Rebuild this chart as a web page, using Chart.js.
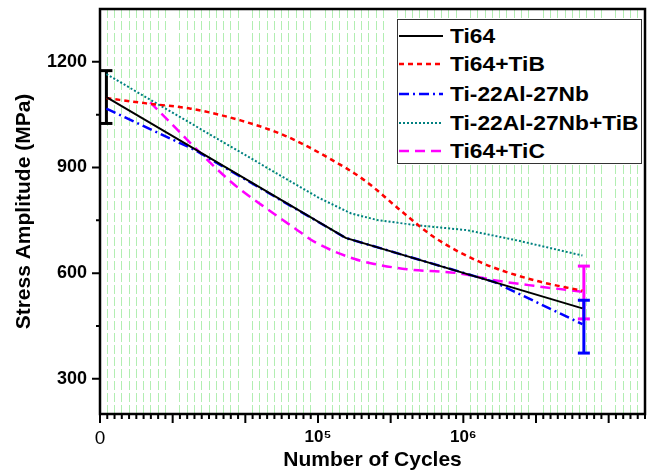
<!DOCTYPE html>
<html>
<head>
<meta charset="utf-8">
<script src="https://cdn.jsdelivr.net/npm/chart.js@4.4.0/dist/chart.umd.min.js"></script>
<style>
  html, body { margin: 0; padding: 0; background: #fff; }
  #wrap { position: relative; width: 654px; height: 473px; }
  #legend {
    position: absolute; left: 397px; top: 19px; width: 245px; height: 145px;
    box-sizing: border-box; border: 1px solid #333; background: #fff;
    font-family: "Liberation Sans", Arial, sans-serif; font-weight: bold; font-size: 20px; color: #000;
  }
  .row { position: absolute; left: 0; width: 100%; height: 24px; line-height: 24px; white-space: nowrap; }
  .row svg { position: absolute; left: 0; top: 0; }
  .row span { position: absolute; left: 52px; top: 0; transform: scaleX(1.14); transform-origin: left center; }
</style>
</head>
<body>
<div id="wrap">
  <canvas id="chart" width="654" height="473"></canvas>
  <div id="legend"></div>
</div>
<script>
// --- DATA ---
// Ti64
const ti64Cycles = [3500, 1.55e5, 6.6e6];
const ti64Stress = [1100, 700, 500];
// Ti64+TiB
const ti64TibCycles = [3500, 6600, 13300, 29700, 59500, 1.17e5, 2.1e5, 3.7e5, 6.3e5, 1.31e6, 3.06e6, 6.6e6];
const ti64TibStress = [1097, 1082, 1067, 1033, 990, 928, 863, 778, 702, 631, 580, 550];
// Ti-22Al-27Nb
const tiAlNbCycles = [3500, 1.4e4, 1.55e5, 1.63e6, 6.6e6];
const tiAlNbStress = [1067, 951, 700, 575, 455];
// Ti-22Al-27Nb+TiB
const tiAlNbTibCycles = [3500, 1e5, 1.68e5, 2.6e5, 4.8e5, 1.06e6, 2.34e6, 6.6e6];
const tiAlNbTibStress = [1165, 815, 770, 750, 736, 722, 693, 650];
// Ti64+TiC
const ti64TicCycles = [7000, 25400, 49200, 69500, 95400, 1.79e5, 2.45e5, 4.1e5, 9.1e5, 1.63e6, 3.06e6, 6.6e6];
const ti64TicStress = [1085, 858, 770, 727, 688, 640, 626, 611, 600, 580, 564, 547];

// error bars: Ti64 (start), Ti-22Al-27Nb (end), Ti64+TiC (end)
const errCycles = [3500, 6.75e6, 6.75e6];
const errMean = [1100, 448, 545];
const errHalf = [75, 75, 75];

// axis ticks (exponent of 10 for x)
const xMinExp = 3.5;
const xMaxExp = 7.25;
const yTicks = [300, 450, 600, 750, 900, 1050, 1200];

const seriesNames = ['Ti64', 'Ti64+TiB', 'Ti-22Al-27Nb', 'Ti-22Al-27Nb+TiB', 'Ti64+TiC'];

const FONT = '"Liberation Sans", Arial, sans-serif';

const zip = (xs, ys) => xs.map((x, i) => ({ x: x, y: ys[i] }));

const styles = [
    { color: '#000000', width: 2, dash: [], tension: 0 },
    { color: '#ff0000', width: 2.5, dash: [5, 4], tension: 0.4 },
    { color: '#0000ff', width: 2.5, dash: [10, 4, 2, 4], tension: 0 },
    { color: '#008080', width: 2, dash: [2, 2], tension: 0 },
    { color: '#ff00ff', width: 2.5, dash: [10, 6], tension: 0.4 }
];
const seriesData = [
    zip(ti64Cycles, ti64Stress),
    zip(ti64TibCycles, ti64TibStress),
    zip(tiAlNbCycles, tiAlNbStress),
    zip(tiAlNbTibCycles, tiAlNbTibStress),
    zip(ti64TicCycles, ti64TicStress)
];

const lineSets = seriesData.map((d, i) => ({
    label: seriesNames[i],
    data: d,
    borderColor: styles[i].color,
    borderWidth: styles[i].width,
    borderDash: styles[i].dash,
    cubicInterpolationMode: styles[i].tension ? 'monotone' : 'default',
    pointRadius: 0,
    fill: false
}));

const errColors = ['#000000', '#0000ff', '#ff00ff'];
const errSets = errCycles.map((c, i) => ({
    label: 'err' + i,
    data: [{ x: c, y: errMean[i] - errHalf[i] }, { x: c, y: errMean[i] + errHalf[i] }],
    borderColor: errColors[i],
    borderWidth: 3,
    pointStyle: 'line',
    pointRadius: 6,
    pointBorderWidth: 3,
    pointBorderColor: errColors[i],
    fill: false
}));

// frame + outward tick marks
const frameTicks = {
    id: 'frameTicks',
    afterDraw(chart) {
        const { ctx, chartArea: a, scales } = chart;
        ctx.save();
        ctx.setLineDash([]);
        ctx.strokeStyle = '#000';
        ctx.lineWidth = 2.5;
        ctx.strokeRect(a.left, a.top, a.right - a.left, a.bottom - a.top);
        ctx.lineWidth = 2;
        ctx.beginPath();
        scales.x.ticks.forEach(t => {
            const px = scales.x.getPixelForValue(t.value);
            ctx.moveTo(px, a.bottom);
            ctx.lineTo(px, a.bottom + (t.major ? 9 : 5));
        });
        scales.y.ticks.forEach(t => {
            const py = scales.y.getPixelForValue(t.value);
            ctx.moveTo(a.left, py);
            ctx.lineTo(a.left - (t.major ? 8 : 4), py);
        });
        ctx.stroke();
        ctx.restore();
    }
};

new Chart(document.getElementById('chart').getContext('2d'), {
    type: 'line',
    data: { datasets: lineSets.concat(errSets) },
    options: {
        responsive: false,
        animation: false,
        layout: { padding: { top: 8, right: 7, left: 0, bottom: 0 } },
        plugins: { legend: { display: false }, tooltip: { enabled: false } },
        scales: {
            x: {
                type: 'logarithmic',
                min: Math.pow(10, xMinExp),
                max: Math.pow(10, xMaxExp),
                afterBuildTicks: s => {
                    const ticks = [];
                    for (let k = Math.round(xMinExp * 20); k <= Math.round(xMaxExp * 20); k++) {
                        ticks.push({ value: Math.pow(10, k / 20), major: k % 10 === 0 });
                    }
                    s.ticks = ticks;
                },
                afterFit: s => {
                    s.height = 59;
                    s.paddingLeft = 0;
                    s.paddingRight = 0;
                },
                grid: {
                    drawTicks: false,
                    lineWidth: 1,
                    color: c => (c.tick && c.tick.major) ? 'rgba(0,0,0,0)' : '#b2eeb2'
                },
                border: { display: false, dash: [9, 3] },
                ticks: {
                    autoSkip: false,
                    maxRotation: 0,
                    minRotation: 0,
                    padding: 13,
                    color: '#000',
                    font: c => {
                        const e = c.tick ? Math.round(Math.log10(c.tick.value) * 20) / 20 : 0;
                        return e === xMinExp
                            ? { family: FONT, size: 19, weight: 'normal' }
                            : { family: FONT, size: 17, weight: 'bold' };
                    },
                    callback: v => {
                        const e = Math.round(Math.log10(v) * 20) / 20;
                        if (e === xMinExp) return '0';
                        if (e === 5) return '10\u2075';
                        if (e === 6) return '10\u2076';
                        return '';
                    }
                },
                title: {
                    display: true,
                    text: 'Number of Cycles',
                    color: '#000',
                    font: { family: FONT, size: 21, weight: 'bold' },
                    padding: { top: 0, bottom: 0 }
                }
            },
            y: {
                type: 'linear',
                min: 200,
                max: 1350,
                afterBuildTicks: s => {
                    s.ticks = yTicks.map(v => ({ value: v, major: v % 300 === 0 }));
                },
                afterFit: s => {
                    s.width = 100;
                    s.paddingTop = 0;
                    s.paddingBottom = 0;
                },
                grid: { display: false, drawTicks: false },
                border: { display: false },
                ticks: {
                    padding: 13,
                    color: '#000',
                    font: { family: FONT, size: 18, weight: 'bold' },
                    callback: v => (v % 300 === 0 ? String(v) : '')
                },
                title: {
                    display: true,
                    text: 'Stress Amplitude (MPa)',
                    color: '#000',
                    font: { family: FONT, size: 21, weight: 'bold' },
                    padding: { top: 12, bottom: 0 }
                }
            }
        }
    },
    plugins: [frameTicks]
});

// --- LEGEND (html, inside plot area) ---
const legendEl = document.getElementById('legend');
const rowCenters = [16, 44, 74, 103, 131];
seriesNames.forEach((name, i) => {
    const row = document.createElement('div');
    row.className = 'row';
    row.style.top = (rowCenters[i] - 12) + 'px';
    const st = styles[i];
    row.innerHTML = `
        <svg width="46" height="24"><line x1="1" y1="12" x2="45" y2="12"
            stroke="${st.color}" stroke-width="${st.width}"
            stroke-dasharray="${st.dash.length ? st.dash.join(',') : 'none'}"/></svg>
        <span>${name}</span>`;
    legendEl.appendChild(row);
});
</script>
</body>
</html>
